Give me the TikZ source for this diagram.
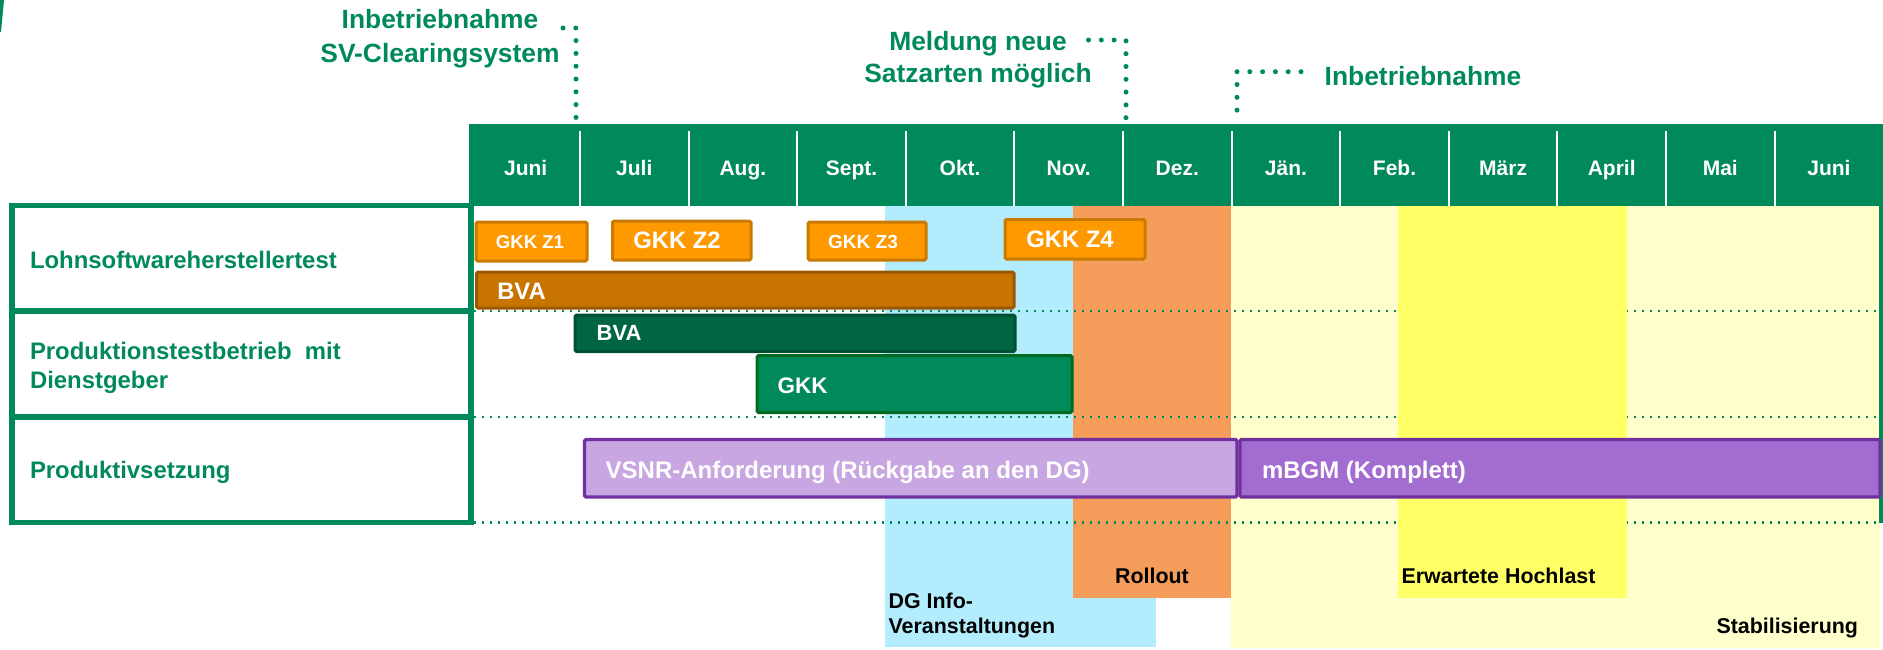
\documentclass[tikz,border=0pt]{standalone}
\usepackage{fontspec}
\setmainfont{Liberation Sans}
\definecolor{hg}{HTML}{008A5A}
\definecolor{gkkfill}{HTML}{FF9900}
\definecolor{gkkdraw}{HTML}{C97A00}
\definecolor{bvaofill}{HTML}{C87400}
\definecolor{bvaodraw}{HTML}{9A5800}
\definecolor{bvagfill}{HTML}{006641}
\definecolor{bvagdraw}{HTML}{004F33}
\definecolor{gkkgdraw}{HTML}{006A20}
\definecolor{vsnrfill}{HTML}{C8A6E2}
\definecolor{mbgmfill}{HTML}{A36CD0}
\definecolor{purpdraw}{HTML}{7030A0}
\definecolor{lblue}{HTML}{B3ECFD}
\definecolor{oband}{HTML}{F59E5B}
\definecolor{lyel}{HTML}{FFFFCC}
\definecolor{byel}{HTML}{FFFF66}
\newcommand\myfs[1]{\fontsize{#1}{#1}\selectfont\bfseries}
\begin{document}
\begin{tikzpicture}[x=1pt,y=-1pt,
  txt/.style={inner sep=0pt, outer sep=0pt},
  month/.style={txt, text=white, font=\myfs{21}, anchor=base},
  rowlbl/.style={txt, text=hg, font=\myfs{23.9}, anchor=base west},
  ann/.style={txt, text=hg, font=\myfs{26.4}, anchor=base},
  barlbl/.style={txt, text=white, font=\myfs{23.8}},
  blk/.style={txt, text=black, font=\myfs{21.4}},
  lead/.style={draw=hg, line width=5pt, line cap=round, dash pattern=on 0pt off 12.8pt},
  rowdots/.style={draw=hg, line width=2.2pt, dash pattern=on 2.2pt off 5.8pt},
  gkkbar/.style={fill=gkkfill, draw=gkkdraw, line width=3pt, rounded corners=1.5pt},
  bvaobar/.style={fill=bvaofill, draw=bvaodraw, line width=3pt, rounded corners=1.5pt},
  bvagbar/.style={fill=bvagfill, draw=bvagdraw, line width=3pt, rounded corners=1.5pt},
  gkkgbar/.style={fill=hg, draw=gkkgdraw, line width=3pt, rounded corners=1.5pt},
  vsnrbar/.style={fill=vsnrfill, draw=purpdraw, line width=3.3pt, rounded corners=1.5pt},
  mbgmbar/.style={fill=mbgmfill, draw=purpdraw, line width=3.3pt, rounded corners=1.5pt},
  boxline/.style={draw=hg, line width=5.5pt}
]
\useasboundingbox (0,0) rectangle (1883,649);

% top-left sliver
\fill[hg] (0,0) -- (4,0) -- (1,32) -- (0,32) -- cycle;

% background bands
\fill[lyel] (1231,206) rectangle (1880,648);
\fill[lblue] (885,206) rectangle (1156,647);
\fill[oband] (1072.7,206) rectangle (1231,598);
\foreach \y in {311,417,522.5} \draw[rowdots] (474,\y) -- (1880,\y);
\fill[byel] (1398,206) rectangle (1627,598);

% header
\fill[hg] (469,124) rectangle (1883,206);
\foreach \k in {1,...,12} \draw[white, line width=2pt] ({471.4+\k*108.6},131) -- ({471.4+\k*108.6},206);
\foreach \m [count=\i from 0] in {Juni,Juli,Aug.,Sept.,Okt.,Nov.,Dez.,Jän.,Feb.,März,April,Mai,Juni}
  \node[month] (m\i) at ({471.4+(\i+0.5)*108.6},175) {\m};

% right border line
\draw[hg, line width=4pt] (1881,206) -- (1881,523);

% left box
\draw[boxline] (12,205.5) rectangle (471,522.5);
\draw[boxline] (12,311) -- (471,311);
\draw[boxline] (12,417) -- (471,417);
\node[rowlbl] (r1) at (30,268.3) {Lohnsoftwareherstellertest};
\node[rowlbl] (r2a) at (30,359.3) {Produktionstestbetrieb\ \ mit};
\node[rowlbl] (r2b) at (30,388.3) {Dienstgeber};
\node[rowlbl] (r3) at (30,478.3) {Produktivsetzung};

% bars
\draw[gkkbar] (476,222) rectangle (587,261);
\node[barlbl, font=\myfs{18.6}, anchor=base] (z1) at (530,248.3) {GKK Z1};
\draw[gkkbar] (612.5,221) rectangle (751,260);
\node[barlbl, anchor=base] (z2) at (677,248.3) {GKK Z2};
\draw[gkkbar] (808,222) rectangle (926,260);
\node[barlbl, font=\myfs{19}, anchor=base] (z3) at (863,248.3) {GKK Z3};
\draw[gkkbar] (1005,219.5) rectangle (1145,259);
\node[barlbl, anchor=base] (z4) at (1070,247.3) {GKK Z4};

\draw[bvaobar] (476.5,272) rectangle (1014,308);
\node[barlbl, anchor=base west] (bva1) at (497.3,299.3) {BVA};
\draw[bvagbar] (575,315) rectangle (1015,351.5);
\node[barlbl, font=\myfs{22}, anchor=base west] (bva2) at (596.7,340.7) {BVA};
\draw[gkkgbar] (757,355.5) rectangle (1072,412.5);
\node[barlbl, font=\myfs{22.5}, anchor=base west] (gkk) at (777.7,393.3) {GKK};

\draw[vsnrbar] (584.5,439.5) rectangle (1237,497);
\node[barlbl, font=\myfs{24}, anchor=base west] (vsnr) at (605.7,478.3) {VSNR-Anforderung (Rückgabe an den DG)};
\draw[mbgmbar] (1240,439.5) rectangle (1880,497);
\node[barlbl, font=\myfs{24}, anchor=base west] (mbgm) at (1262,478) {mBGM (Komplett)};

% band labels
\node[blk, anchor=base] (roll) at (1152,583) {Rollout};
\node[blk, anchor=base west] (hoch) at (1401.6,583) {Erwartete Hochlast};
\node[blk, anchor=base west] (dg1) at (888.6,608) {DG Info-};
\node[blk, anchor=base west] (dg2) at (888.6,633) {Veranstaltungen};
\node[blk, anchor=base east] (stab) at (1858,633) {Stabilisierung};

% annotations
\node[ann] (a1a) at (440,28.9) {Inbetriebnahme};
\node[ann] (a1b) at (440,62.2) {SV-Clearingsystem};
\node[ann] (a2a) at (978,50.6) {Meldung neue};
\node[ann] (a2b) at (978,82.2) {Satzarten möglich};
\node[ann, anchor=base west] (a3) at (1324.7,85.6) {Inbetriebnahme};

\coordinate (l1s) at (563,28);
\coordinate (l1e) at (576,118);
\draw[lead] (l1s) -| (l1e);
\coordinate (l2s) at (1088.5,40);
\coordinate (l2e) at (1126,122);
\draw[lead] (l2s) -| (l2e);
\coordinate (l3s) at (1301,71.7);
\coordinate (l3e) at (1237,122);
\draw[lead] (l3s) -| (l3e);
\end{tikzpicture}
\end{document}
